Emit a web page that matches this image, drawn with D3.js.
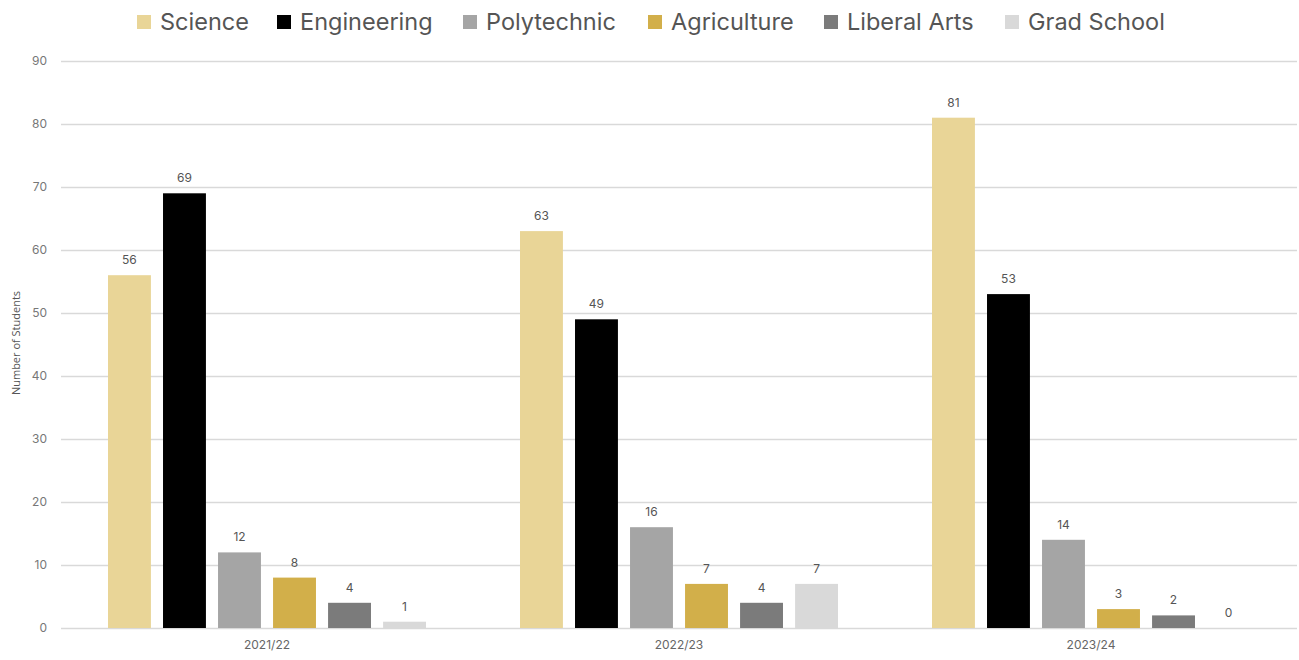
<!DOCTYPE html>
<html>
<head>
<meta charset="utf-8">
<script src="https://cdn.jsdelivr.net/npm/d3@7"></script>
<style>
  html, body { margin: 0; padding: 0; background: #fff; }
  svg { display: block; }
</style>
</head>
<body>
<svg id="chart" width="1299" height="660"></svg>
<script>
// Academic years (x groups)
const years = ["2021/22", "2022/23", "2023/24"];
// Colleges (series)
const colleges = ["Science", "Engineering", "Polytechnic", "Agriculture", "Liberal Arts", "Grad School"];
// Student counts per college, one entry per year
const science     = [56, 63, 81];
const engineering = [69, 49, 53];
const polytechnic = [12, 16, 14];
const agriculture = [8, 7, 3];
const liberalArts = [4, 4, 2];
const gradSchool  = [1, 7, 0];
const yTicks = [0, 10, 20, 30, 40, 50, 60, 70, 80, 90];
const colors = ["#e9d597", "#000000", "#a5a5a5", "#d2af4a", "#7b7b7b", "#d9d9d9"];

const seriesValues = [science, engineering, polytechnic, agriculture, liberalArts, gradSchool];
const rows = [];
years.forEach((yr, i) => {
  colleges.forEach((c, j) => rows.push({ year: yr, college: c, value: seriesValues[j][i] }));
});

const svg = d3.select("#chart");
const margin = { left: 61, right: 2, top: 61, bottom: 32 };
const W = 1299, H = 660;

const x0 = d3.scaleBand().domain(years).range([margin.left, W - margin.right]).paddingInner(0).paddingOuter(0);
const x1 = d3.scaleBand().domain(colleges).range([47, x0.bandwidth() - 47]).paddingInner(0.22).paddingOuter(0);
const y = d3.scaleLinear().domain([0, 90]).range([H - margin.bottom, margin.top]);
const color = d3.scaleOrdinal().domain(colleges).range(colors);

const font = "Inter, Roboto, 'Noto Sans', sans-serif";

// Gridlines + y tick labels
const yAxis = d3.axisLeft(y).tickValues(yTicks).tickSize(-(W - margin.right - margin.left)).tickPadding(14);
const gy = svg.append("g").attr("transform", `translate(${margin.left},0)`).call(yAxis);
gy.select(".domain").remove();
gy.selectAll(".tick line").attr("stroke", "#d9d9d9").attr("stroke-width", 1.3);
gy.selectAll(".tick text").attr("fill", "#777").attr("font-size", 12).attr("font-family", font);

// X axis labels
const xAxis = d3.axisBottom(x0).tickSize(0).tickPadding(12);
const gx = svg.append("g").attr("transform", `translate(0,${H - margin.bottom})`).call(xAxis);
gx.select(".domain").remove();
gx.selectAll(".tick text").attr("fill", "#666").attr("font-size", 12).attr("font-family", font);

// Bars
const bars = svg.append("g");
bars.selectAll("rect").data(rows).join("rect")
  .attr("x", d => x0(d.year) + x1(d.college))
  .attr("y", d => y(d.value))
  .attr("width", x1.bandwidth())
  .attr("height", d => y(0) - y(d.value))
  .attr("fill", d => color(d.college));

// Value labels
svg.append("g").selectAll("text").data(rows).join("text")
  .attr("x", d => x0(d.year) + x1(d.college) + x1.bandwidth() / 2)
  .attr("y", d => y(d.value) - 11)
  .attr("text-anchor", "middle")
  .attr("font-size", 12)
  .attr("font-family", font)
  .attr("fill", "#555")
  .text(d => d.value);

// Y axis title
svg.append("text")
  .attr("transform", "translate(20,343) rotate(-90)")
  .attr("text-anchor", "middle")
  .attr("font-size", 11)
  .attr("font-family", "'Open Sans', 'Noto Sans', sans-serif")
  .attr("fill", "#555")
  .text("Number of Students");

// Legend
const legendX = [137, 277, 463, 648, 824, 1005];
const lg = svg.append("g").selectAll("g").data(colleges).join("g")
  .attr("transform", (d, i) => `translate(${legendX[i]},22)`);
lg.append("rect").attr("x", 0).attr("y", -7).attr("width", 14).attr("height", 14).attr("fill", d => color(d));
lg.append("text").attr("x", 23).attr("y", 8)
  .attr("font-size", 23.5).attr("font-family", font).attr("fill", "#555")
  .text(d => d);
</script>
</body>
</html>
